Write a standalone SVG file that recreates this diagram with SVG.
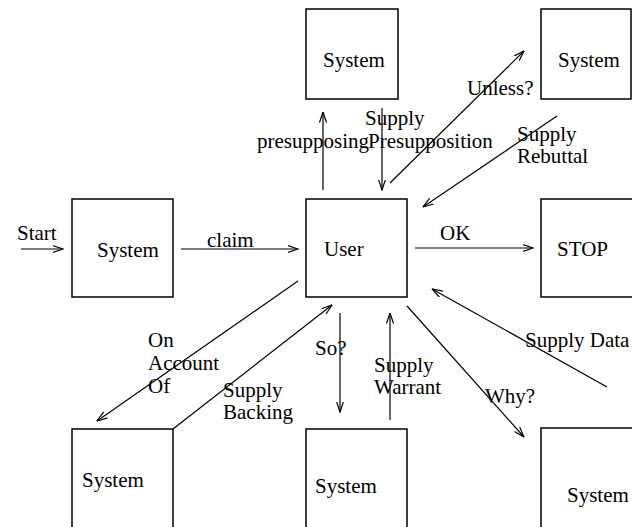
<svg xmlns="http://www.w3.org/2000/svg" width="632" height="527" viewBox="0 0 632 527">
<style>
.box{fill:#fff;stroke:#000;stroke-width:1.5}
.lbl{font-family:"Liberation Serif","Times New Roman",serif;font-size:21px;fill:#000}
.edge{fill:none;stroke:#000;stroke-width:1.2;marker-end:url(#ah)}
</style>
<defs>
<marker id="ah" viewBox="0 0 11 8" refX="10.5" refY="4" markerWidth="11" markerHeight="8" markerUnits="userSpaceOnUse" orient="auto">
<path d="M0,0.5 L10.5,4 L0,7.5" fill="none" stroke="#000" stroke-width="1.2"/>
</marker>
</defs>
<rect width="632" height="527" fill="#fff"/>
<g id="sys-start"><rect class="box" x="72" y="199" width="101" height="98"/><text class="lbl" x="97" y="257">System</text></g>
<g id="user"><rect class="box" x="306" y="199" width="101" height="98"/><text class="lbl" x="324" y="256">User</text></g>
<g id="stop"><rect class="box" x="541" y="199" width="110" height="98"/><text class="lbl" x="557" y="256">STOP</text></g>
<g id="sys-top-left"><rect class="box" x="306" y="9" width="92" height="90"/><text class="lbl" x="323" y="67">System</text></g>
<g id="sys-top-right"><rect class="box" x="541" y="9" width="90" height="90"/><text class="lbl" x="558" y="67">System</text></g>
<g id="sys-bottom-left"><rect class="box" x="72" y="429" width="101" height="120"/><text class="lbl" x="82" y="487">System</text></g>
<g id="sys-bottom-mid"><rect class="box" x="306" y="429" width="101" height="120"/><text class="lbl" x="315" y="493">System</text></g>
<g id="sys-bottom-right"><rect class="box" x="541" y="428" width="110" height="120"/><text class="lbl" x="567" y="502">System</text></g>
<g id="connectors">
<line class="edge" x1="21" y1="249" x2="63" y2="249"/>
<line class="edge" x1="181" y1="249" x2="298" y2="249"/>
<line class="edge" x1="415" y1="248" x2="533" y2="248"/>
<line class="edge" x1="323" y1="190" x2="323" y2="112"/>
<line class="edge" x1="382" y1="108" x2="382" y2="190"/>
<line class="edge" x1="390" y1="183" x2="524" y2="51"/>
<line class="edge" x1="557" y1="116" x2="423" y2="207"/>
<line class="edge" x1="607" y1="387" x2="432" y2="289"/>
<line class="edge" x1="407" y1="306" x2="524" y2="437"/>
<line class="edge" x1="340" y1="313" x2="340" y2="412"/>
<line class="edge" x1="390" y1="420" x2="390" y2="313"/>
<line class="edge" x1="298" y1="281" x2="97" y2="421"/>
<line class="edge" x1="173" y1="429" x2="332" y2="305"/>
</g>
<g id="labels">
<text class="lbl" x="17" y="240">Start</text>
<text class="lbl" x="207" y="247">claim</text>
<text class="lbl" x="440" y="240">OK</text>
<text class="lbl" x="365" y="125">Supply</text>
<text class="lbl" x="257" y="148">presupposing</text>
<text class="lbl" x="368" y="148">Presupposition</text>
<text class="lbl" x="467" y="95">Unless?</text>
<text class="lbl" x="517" y="141">Supply</text>
<text class="lbl" x="517" y="163">Rebuttal</text>
<text class="lbl" x="148" y="347">On</text>
<text class="lbl" x="148" y="370">Account</text>
<text class="lbl" x="148" y="393">Of</text>
<text class="lbl" x="223" y="397">Supply</text>
<text class="lbl" x="223" y="419">Backing</text>
<text class="lbl" x="315" y="355">So?</text>
<text class="lbl" x="374" y="372">Supply</text>
<text class="lbl" x="374" y="394">Warrant</text>
<text class="lbl" x="485" y="403">Why?</text>
<text class="lbl" x="525" y="347">Supply Data</text>
</g>
</svg>
